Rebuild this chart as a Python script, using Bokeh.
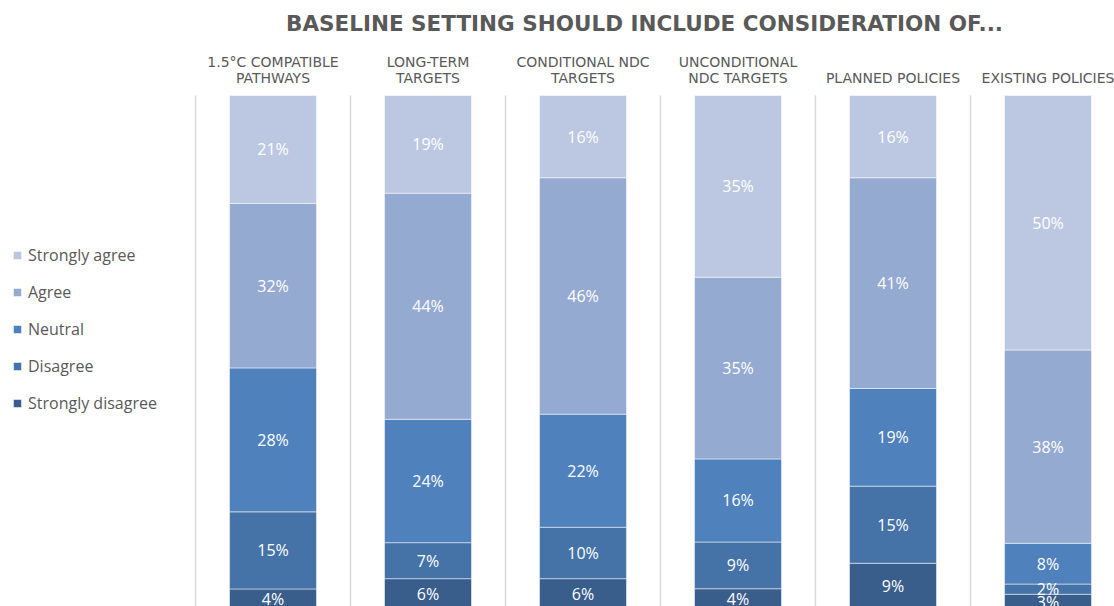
from bokeh.plotting import figure
from bokeh.models import ColumnDataSource, Range1d, Legend, LegendItem, Label
from bokeh.core.properties import value
from bokeh.embed import file_html
from bokeh.resources import INLINE

# ---- data ----
categories = ["1.5°C COMPATIBLE PATHWAYS", "LONG-TERM TARGETS", "CONDITIONAL NDC TARGETS",
              "UNCONDITIONAL NDC TARGETS", "PLANNED POLICIES", "EXISTING POLICIES"]
header_line1 = ["1.5°C COMPATIBLE", "LONG-TERM", "CONDITIONAL NDC", "UNCONDITIONAL", "", ""]
header_line2 = ["PATHWAYS", "TARGETS", "TARGETS", "NDC TARGETS", "PLANNED POLICIES", "EXISTING POLICIES"]
strongly_disagree = [4, 6, 6, 4, 9, 3]
disagree = [15, 7, 10, 9, 15, 2]
neutral = [28, 24, 22, 16, 19, 8]
agree = [32, 44, 46, 35, 41, 38]
strongly_agree = [21, 19, 16, 35, 16, 50]
series_names = ["Strongly disagree", "Disagree", "Neutral", "Agree", "Strongly agree"]
series_values = [strongly_disagree, disagree, neutral, agree, strongly_agree]
colors = ["#3A5E8C", "#4572A7", "#4F81BD", "#95AAD0", "#BCC7E1"]
title_text = "BASELINE SETTING SHOULD INCLUDE CONSIDERATION OF..."

# ---- layout constants ----
W, H = 1114, 606
LEFT = 195.0          # px of first category boundary
CAT_W = 155.0         # px per category
PX = 5.14             # px per percent
TOP = 95.0            # px of 100%
y_end = 100 + TOP / PX
y_start = y_end - H / PX

n = len(categories)
xs = [i + 0.5 for i in range(n)]
keys = ["s%d" % k for k in range(len(series_names))]
data = {"x": xs}
totals = [sum(v[i] for v in series_values) for i in range(n)]
for k, vals in zip(keys, series_values):
    data[k] = [vals[i] / totals[i] * 100 for i in range(n)]
source = ColumnDataSource(data)

p = figure(width=W, height=H, output_backend="svg", toolbar_location=None,
           x_axis_location=None, y_axis_location=None,
           x_range=Range1d(-LEFT / CAT_W, (W - LEFT) / CAT_W),
           y_range=Range1d(y_start, y_end), min_border=0)
p.outline_line_color = None
p.background_fill_color = "white"
p.border_fill_color = "white"
p.grid.visible = False

# category separators
bounds = list(range(n + 1))
p.segment(x0=bounds, x1=bounds, y0=[y_start] * len(bounds), y1=[100] * len(bounds),
          line_color="#D9D9D9", line_width=1.5)

renderers = p.vbar_stack(keys, x="x", width=87 / CAT_W, color=colors, source=source,
                         line_color="white", line_width=0.5)

# segment labels
lx, ly, lt = [], [], []
for i in range(n):
    cum = 0.0
    for k, vals in zip(keys, series_values):
        h = data[k][i]
        lx.append(xs[i])
        ly.append(cum + h / 2)
        lt.append("%d%%" % vals[i])
        cum += h
p.text(x=lx, y=ly, text=lt, text_color="white", text_align="center", text_baseline="middle",
       text_font=value("Open Sans"), text_font_size="16px")

# headers
p.text(x=xs, y=[100 + (TOP - 61.5) / PX] * n, text=header_line1, text_color="#595959",
       text_align="center", text_baseline="middle", text_font=value("DejaVu Sans"),
       text_font_size="14px")
p.text(x=xs, y=[100 + (TOP - 77.5) / PX] * n, text=header_line2, text_color="#595959",
       text_align="center", text_baseline="middle", text_font=value("DejaVu Sans"),
       text_font_size="14px")

# title
p.add_layout(Label(x=644, y=H - 22.5, x_units="screen", y_units="screen", text=title_text,
                   text_align="center", text_baseline="middle", text_color="#595959",
                   text_font="DejaVu Sans", text_font_style="bold", text_font_size="21.5px"))

# legend
items = [LegendItem(label=name, renderers=[r]) for name, r in zip(series_names, renderers)][::-1]
legend = Legend(items=items, location=(12, 186), padding=0, margin=0, spacing=3,
                glyph_width=10, glyph_height=10, label_height=34, label_standoff=6,
                label_text_font="Open Sans", label_text_font_size="16px",
                label_text_color="#595959", border_line_color=None,
                background_fill_alpha=0)
p.add_layout(legend)

open("out.html", "w").write(file_html(p, INLINE))
